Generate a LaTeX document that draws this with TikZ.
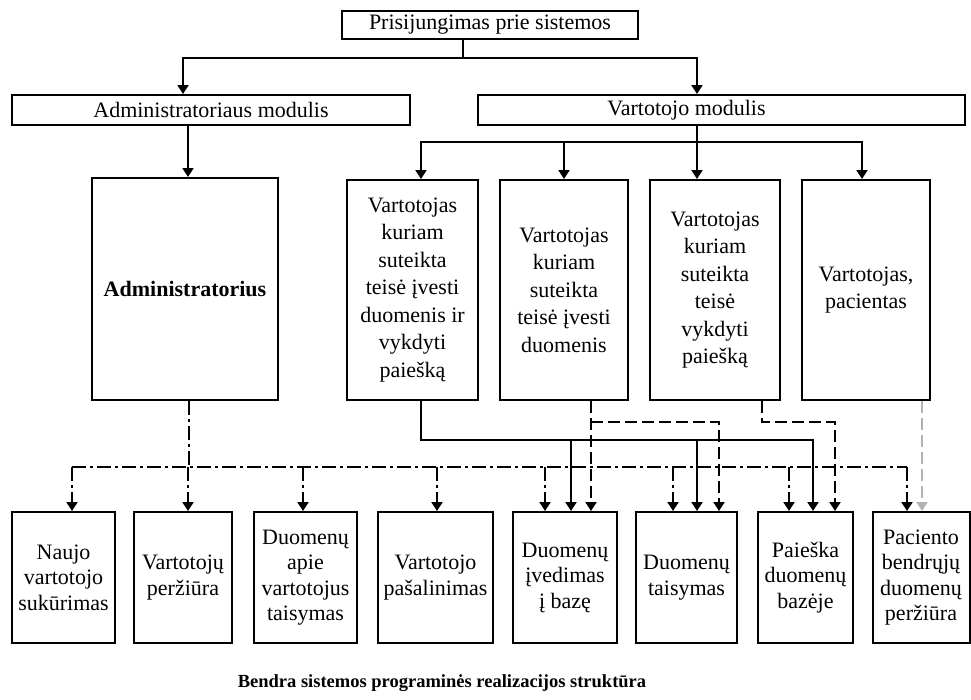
\documentclass[tikz,border=0pt]{standalone}
\usepackage{fontspec}
\setmainfont{Liberation Serif}
\usetikzlibrary{arrows.meta}
\tikzset{
  box/.style={draw, line width=2pt, inner sep=1pt, align=center, font=\fontsize{22}{27.5}\selectfont},
  ubox/.style={box, minimum height=220pt},
  bbox/.style={box, minimum height=131pt, font=\fontsize{22}{25.5}\selectfont},
  lnk/.style={line width=2.1pt},
  arr/.style={lnk, -{Triangle[width=11pt,length=9pt]}},
  dashdot/.style={dash pattern=on 14pt off 4pt on 3pt off 4pt},
  dsh/.style={dash pattern=on 12pt off 5pt},
}
\begin{document}
\begin{tikzpicture}[x=1pt,y=-1pt]
\useasboundingbox (0,0) rectangle (971,699);
% top levels
\node[box, minimum width=296pt, minimum height=28pt] (top) at (490,25) {Prisijungimas prie sistemos};
\node[box, minimum width=398pt, minimum height=30pt] (am) at (211,110) {Administratoriaus modulis};
\node[box, minimum width=487pt, minimum height=30pt] (vm) at (721.5,110) {Vartotojo modulis\hspace*{70pt}};
% middle
\node[box, minimum width=186pt, minimum height=222pt, font=\bfseries\fontsize{22}{27.5}\selectfont] (adm) at (185,289) {Administratorius};
\node[ubox, minimum width=131pt] (u1) at (412.5,290) {Vartotojas\\kuriam\\suteikta\\teisė įvesti\\duomenis ir\\vykdyti\\paiešką};
\node[ubox, minimum width=128pt] (u2) at (564,290) {Vartotojas\\kuriam\\suteikta\\teisė įvesti\\duomenis};
\node[ubox, minimum width=130pt] (u3) at (715,290) {Vartotojas\\kuriam\\suteikta\\teisė\\vykdyti\\paiešką};
\node[ubox, minimum width=128pt] (u4) at (866,290) {Vartotojas,\\pacientas};
% bottom
\node[bbox, minimum width=103pt] (b1) at (63.5,577.5) {Naujo\\vartotojo\\sukūrimas};
\node[bbox, minimum width=98pt] (b2) at (183,577.5) {Vartotojų\\peržiūra};
\node[bbox, minimum width=103pt] (b3) at (305.5,577.5) {Duomenų\\apie\\vartotojus\\taisymas};
\node[bbox, minimum width=115pt] (b4) at (435.5,577.5) {Vartotojo\\pašalinimas};
\node[bbox, minimum width=104pt] (b5) at (565,577.5) {Duomenų\\įvedimas\\į bazę};
\node[bbox, minimum width=101pt] (b6) at (686.5,577.5) {Duomenų\\taisymas};
\node[bbox, minimum width=95pt] (b7) at (805.5,577.5) {Paieška\\duomenų\\bazėje};
\node[bbox, minimum width=97pt] (b8) at (921,577.5) {Paciento\\bendrųjų\\duomenų\\peržiūra};
% caption
\node[font=\bfseries\fontsize{18.5}{22}\selectfont] (cap) at (442,683) {Bendra sistemos programinės realizacijos struktūra};
% top connectors
\coordinate (j0) at (463,58);
\coordinate (tL) at (183,58);
\coordinate (tR) at (697,58);
\draw[lnk] (j0 |- top.south) -- (j0);
\draw[arr] (j0) -- (tL) -- (tL |- am.north);
\draw[arr] (j0) -- (tR) -- (tR |- vm.north);
\coordinate (xa) at (188,125);
\draw[arr] (xa |- am.south) -- (xa |- adm.north);
% user module
\coordinate (v0) at (697,142);
\coordinate (v1) at (421,142);
\coordinate (v2) at (564,142);
\coordinate (v4) at (862,142);
\draw[lnk] (v0 |- vm.south) -- (v0);
\draw[arr] (v0) -- (v1) -- (v1 |- u1.north);
\draw[arr] (v2) -- (v2 |- u2.north);
\draw[arr] (v0) -- (v0 |- u3.north);
\draw[arr] (v0) -- (v4) -- (v4 |- u4.north);
% administrator dash-dot
\coordinate (d0) at (189,467);
\coordinate (dL) at (72,467);
\coordinate (dR) at (907,467);
\draw[lnk,dashdot] (d0 |- adm.south) -- (d0);
\draw[lnk,dashdot] (dL) -- (dR);
\foreach \xx/\tg in {72/b1,188/b2,303/b3,437/b4,545/b5,673/b6,789/b7,907/b8}{
  \coordinate (t) at (\xx,467);
  \draw[arr,dashdot] (t) -- (t |- \tg.north);
}
% user 1 solid
\coordinate (s0) at (421,440);
\coordinate (s3) at (813,440);
\draw[arr] (s0 |- u1.south) -- (s0) -- (s3) -- (s3 |- b7.north);
\foreach \xx/\tg in {571/b5,697/b6}{
  \coordinate (t) at (\xx,440);
  \draw[arr] (t) -- (t |- \tg.north);
}
% user 2 dashed
\coordinate (e0) at (591,422);
\coordinate (e1) at (719,422);
\draw[arr,dsh] (e0 |- u2.south) -- (e0 |- b5.north);
\draw[arr,dsh] (e0) -- (e1) -- (e1 |- b6.north);
% user 3 dashed
\coordinate (f0) at (762,422);
\coordinate (f1) at (835,422);
\draw[arr,dsh] (f0 |- u3.south) -- (f0) -- (f1) -- (f1 |- b7.north);
% user 4 gray dashed
\coordinate (g0) at (922,422);
\draw[arr,dsh,gray!60] (g0 |- u4.south) -- (g0 |- b8.north);
\end{tikzpicture}
\end{document}
